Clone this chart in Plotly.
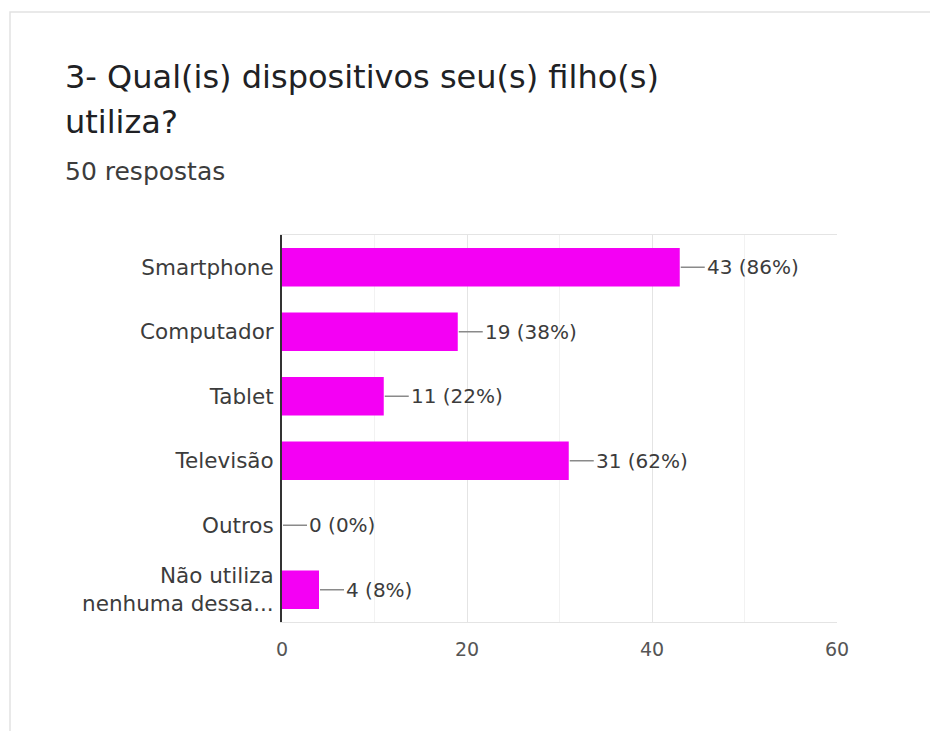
import plotly.graph_objects as go

# survey answers
categories = ["Smartphone", "Computador", "Tablet", "Televisão", "Outros",
              "Não utiliza<br>nenhuma dessa..."]
counts = [43, 19, 11, 31, 0, 4]
percents = [86, 38, 22, 62, 0, 8]
x_ticks = [0, 20, 40, 60]

title_line1 = "3- Qual(is) dispositivos seu(s) filho(s)"
title_line2 = "utiliza?"
subtitle = "50 respostas"

BAR = "#f400f4"
TXT = "#3c3c3c"
FONT = "DejaVu Sans"

# the page puts the figure 8px in from the top-left corner
OFF = 8
# plot area in screen pixels
X0, X1, Y0, Y1 = 282, 837, 235, 622
L, T = X0 - OFF, Y0 - OFF
W, H = X1 - X0, Y1 - Y0
FW, FH = 938, 731
R, B = FW - L - W, FH - T - H


def px_x(p):
    return (p - X0) / W


def px_y(p):
    return (Y1 - p) / H


fig = go.Figure()
fig.add_trace(go.Bar(
    x=counts, y=categories, orientation="h",
    marker=dict(color=BAR, line=dict(width=0)),
    width=0.6, hoverinfo="x+y",
))

# value labels with a short leader line
for c, n, p in zip(categories, counts, percents):
    fig.add_annotation(
        x=n, y=c, xref="x", yref="y",
        text=f"{n} ({p}%)", showarrow=True, arrowhead=0,
        arrowwidth=1.3, arrowcolor="#8a8a8a", ax=25, ay=0,
        xanchor="left", standoff=1,
        font=dict(family=FONT, size=20, color=TXT),
    )

# header texts
for txt, py, size, col in [(title_line1, 77, 32, "#202124"),
                           (title_line2, 122, 32, "#202124"),
                           (subtitle, 172, 25, TXT)]:
    fig.add_annotation(
        x=px_x(63), y=px_y(py), xref="paper", yref="paper",
        text=txt, showarrow=False, xanchor="left", yanchor="middle",
        font=dict(family=FONT, size=size, color=col),
    )

# card outline
fig.add_shape(
    type="rect", xref="paper", yref="paper", layer="below",
    x0=px_x(10), x1=px_x(945), y0=px_y(735), y1=px_y(12),
    line=dict(color="#e2e2e2", width=1.5), fillcolor="white",
)

fig.update_layout(
    width=FW, height=FH,
    margin=dict(l=L, r=R, t=T, b=B),
    paper_bgcolor="white", plot_bgcolor="white",
    showlegend=False,
    font=dict(family=FONT, color=TXT),
)
fig.update_xaxes(
    range=[0, 60], tickvals=x_ticks, ticks="",
    showgrid=True, gridcolor="#e4e4e4", gridwidth=1.2,
    minor=dict(dtick=10, showgrid=True, gridcolor="#f2f2f2"),
    showline=True, linecolor="#e4e4e4", linewidth=1.2, mirror=True,
    zeroline=False, ticklabelstandoff=10,
    tickfont=dict(family=FONT, size=19, color="#555555"),
    fixedrange=True,
)
fig.update_yaxes(
    autorange="reversed", ticks="", showgrid=False,
    showline=True, linecolor="#333333", linewidth=2,
    ticklabelstandoff=2,
    tickfont=dict(family=FONT, size=21.5, color=TXT),
    fixedrange=True,
)

fig.write_html("out.html", config={"displayModeBar": False})
